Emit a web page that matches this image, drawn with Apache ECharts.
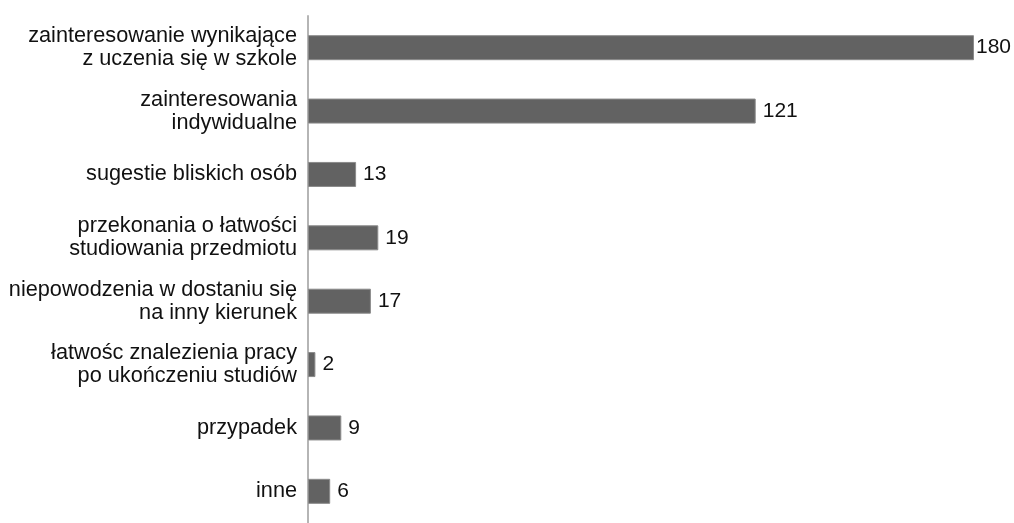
<!DOCTYPE html>
<html><head><meta charset="utf-8">
<script src="https://cdn.jsdelivr.net/npm/echarts@6/dist/echarts.min.js"></script>
<style>html,body{margin:0;padding:0;background:#fff}#c{width:1014px;height:523px}</style>
</head><body><div id="c"></div>
<script>
const categories = [
  "zainteresowanie wynikające\nz uczenia się w szkole",
  "zainteresowania\nindywidualne",
  "sugestie bliskich osób",
  "przekonania o łatwości\nstudiowania przedmiotu",
  "niepowodzenia w dostaniu się\nna inny kierunek",
  "łatwośc znalezienia pracy\npo ukończeniu studiów",
  "przypadek",
  "inne"
];
const values = [180, 121, 13, 19, 17, 2, 9, 6];

const chart = echarts.init(document.getElementById('c'), null, {renderer: 'canvas'});
chart.setOption({
  animation: false,
  backgroundColor: '#fff',
  grid: {left: 308, top: 16, width: 666, height: 512, containLabel: false},
  xAxis: {type: 'value', min: 0, max: 180, show: false},
  yAxis: {
    type: 'category', data: categories, inverse: true,
    axisLine: {show: true, lineStyle: {color: '#b5b5b5', width: 2}},
    axisTick: {show: false},
    axisLabel: {color: '#111', fontFamily: 'Liberation Sans, Arial, sans-serif', fontSize: 21.7, lineHeight: 23, margin: 11, align: 'right'}
  },
  series: [{
    type: 'bar', barWidth: 25,
    data: values.map((v, i) => i === 0 ? {value: v, label: {distance: 2}} : v),
    itemStyle: {color: '#626262', borderColor: '#8a8a8a', borderWidth: 1},
    label: {show: true, position: 'right', distance: 7, color: '#111', fontFamily: 'Liberation Sans, Arial, sans-serif', fontSize: 21}
  }]
});
</script></body></html>
